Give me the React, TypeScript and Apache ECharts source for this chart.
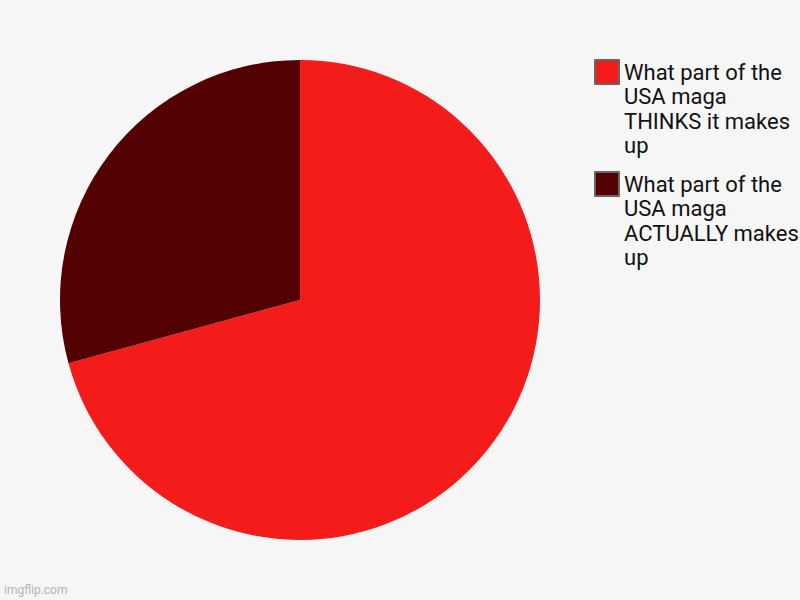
import { useEffect, useRef } from "react";
import * as echarts from "echarts";

// legend labels, split the way the reference wraps them
const LABEL_LINES = [
  ["What part of the", "USA maga", "THINKS it makes", "up"],
  ["What part of the", "USA maga", "ACTUALLY makes", "up"],
];
const LABELS = LABEL_LINES.map((lines) => lines.join(" "));
const VALUES = [70.75, 29.25];
const COLORS = ["#f41b1b", "#520000"];

export default function App() {
  const ref = useRef<HTMLDivElement>(null);

  useEffect(() => {
    document.body.style.margin = "0";
    if (!ref.current) return;
    const chart = echarts.init(ref.current, undefined, { renderer: "svg" });

    chart.setOption({
      animation: false,
      backgroundColor: "#f6f6f6",
      legend: {
        orient: "vertical",
        left: 594,
        // legend text is centred on its icon, so three blank lines go above the
        // four text lines to bring the first line level with the icon
        top: -13.75,
        padding: 0,
        itemGap: -59.5,
        itemWidth: 24,
        itemHeight: 24,
        icon: "rect",
        selectedMode: false,
        itemStyle: { borderColor: "#666", borderWidth: 2 },
        formatter: (name: string) => "\n\n\n" + LABEL_LINES[LABELS.indexOf(name)].join("\n"),
        textStyle: {
          fontFamily: "Roboto",
          fontSize: 22,
          lineHeight: 24.5,
          color: "#111",
        },
        data: LABELS,
      },
      graphic: [
        {
          type: "text",
          left: 4,
          top: 584,
          style: { text: "imgflip.com", fontFamily: "Roboto", fontSize: 12, fill: "#b4b4b4" },
        },
      ],
      series: [
        {
          type: "pie",
          center: [300, 300],
          radius: 240,
          startAngle: 90,
          clockwise: true,
          label: { show: false },
          labelLine: { show: false },
          emphasis: { disabled: true },
          data: LABELS.map((name, i) => ({
            name,
            value: VALUES[i],
            itemStyle: { color: COLORS[i] },
          })),
        },
      ],
    });

    return () => chart.dispose();
  }, []);

  return <div ref={ref} style={{ width: "800px", height: "600px" }} />;
}
